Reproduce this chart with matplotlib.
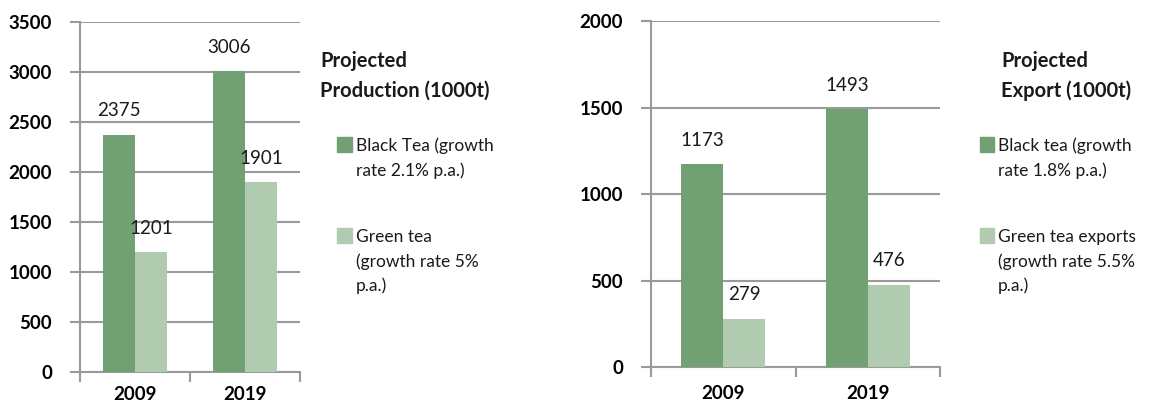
import matplotlib.pyplot as plt
from matplotlib.patches import Rectangle
import numpy as np

plt.rcParams['font.family'] = ['Lato', 'DejaVu Sans']

years = ["2009", "2019"]
prod_black = [2375, 3006]
prod_green = [1201, 1901]
exp_black = [1173, 1493]
exp_green = [279, 476]

prod_title = "Projected\nProduction (1000t)"
prod_labels = ["Black Tea (growth\nrate 2.1% p.a.)", "Green tea\n(growth rate 5%\np.a.)"]
exp_title = "Projected\nExport (1000t)"
exp_labels = ["Black tea (growth\nrate 1.8% p.a.)", "Green tea exports\n(growth rate 5.5%\np.a.)"]

dark = "#71a173"
light = "#b1cbb0"
grid_c = "#9a9a9a"

fig = plt.figure(figsize=(11.51, 4.05), dpi=100)


def draw(ax, black, green, ymax, step, xpad):
    x = np.arange(len(years))
    w = 0.29
    b1 = ax.bar(x - w / 2, black, w, color=dark, zorder=3)
    b2 = ax.bar(x + w / 2, green, w, color=light, zorder=3)
    for bars in (b1, b2):
        for r in bars:
            ax.annotate(str(int(r.get_height())), (r.get_x() + r.get_width() / 2, r.get_height()),
                        xytext=(0, 11), textcoords="offset points", ha="center", va="bottom",
                        fontsize=13.5, color="#1a1a1a")
    ax.set_xlim(-0.5, len(years) - 0.5)
    ax.set_ylim(0, ymax)
    ax.set_yticks(np.arange(0, ymax + 1, step))
    ax.set_xticks([-0.5, 0.5, 1.5])
    ax.set_xticklabels([])
    ax.set_xticks(x, minor=True)
    ax.set_xticklabels(years, minor=True, fontsize=13.5, fontweight="bold")
    ax.tick_params(axis="x", which="minor", length=0, pad=xpad)
    ax.tick_params(axis="x", which="major", length=7, width=1.5, color=grid_c, direction="out")
    ax.tick_params(axis="y", length=7, width=1.5, color=grid_c, pad=13, labelsize=13.5)
    for t in ax.get_yticklabels():
        t.set_fontweight("bold")
    ax.yaxis.grid(True, color=grid_c, linewidth=1.5, zorder=0)
    for s in ("top", "right"):
        ax.spines[s].set_visible(False)
    for s in ("left", "bottom"):
        ax.spines[s].set_color(grid_c)
        ax.spines[s].set_linewidth(1.5)
    return b1, b2


def legend(x0, ytop, title, labels, sq_x):
    fig.text(x0, ytop, title, fontsize=14.5, fontweight="bold", va="top", ha="left",
             linespacing=1.6, color="#1a1a1a")
    ys = [ytop - 0.215, ytop - 0.44]
    for y, lab, c in zip(ys, labels, (dark, light)):
        fig.add_artist(Rectangle((sq_x, y - 0.035), 0.013, 0.037, color=c, transform=fig.transFigure))
        fig.text(sq_x + 0.016, y, lab, fontsize=12.5, va="top", ha="left",
                 linespacing=1.6, color="#1a1a1a")


ax1 = fig.add_axes([0.0695, 0.0815, 0.191, 0.864])
draw(ax1, prod_black, prod_green, 3500, 500, 10)
ax2 = fig.add_axes([0.5656, 0.0938, 0.2511, 0.854])
draw(ax2, exp_black, exp_green, 2000, 500, 13)

legend(0.278, 0.875, prod_title, prod_labels, 0.293)
legend(0.870, 0.875, exp_title, exp_labels, 0.851)

fig.savefig("out.png", dpi=100)
